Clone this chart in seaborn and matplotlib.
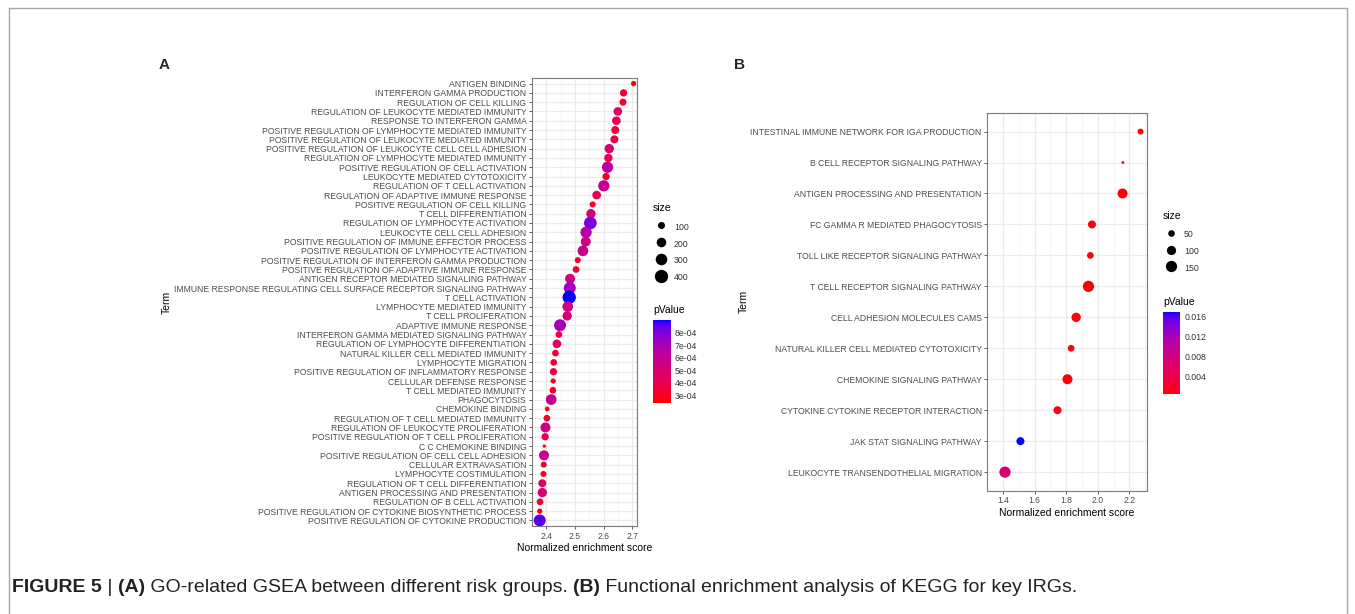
import numpy as np
import pandas as pd
import matplotlib
matplotlib.use("Agg")
import matplotlib.pyplot as plt
import seaborn as sns
from matplotlib.colors import ListedColormap, Normalize
from matplotlib.lines import Line2D
import matplotlib.colorbar as mcolorbar

# ---------------- data: panel A (GO) ----------------
terms_a = [
    "ANTIGEN BINDING",
    "INTERFERON GAMMA PRODUCTION",
    "REGULATION OF CELL KILLING",
    "REGULATION OF LEUKOCYTE MEDIATED IMMUNITY",
    "RESPONSE TO INTERFERON GAMMA",
    "POSITIVE REGULATION OF LYMPHOCYTE MEDIATED IMMUNITY",
    "POSITIVE REGULATION OF LEUKOCYTE MEDIATED IMMUNITY",
    "POSITIVE REGULATION OF LEUKOCYTE CELL CELL ADHESION",
    "REGULATION OF LYMPHOCYTE MEDIATED IMMUNITY",
    "POSITIVE REGULATION OF CELL ACTIVATION",
    "LEUKOCYTE MEDIATED CYTOTOXICITY",
    "REGULATION OF T CELL ACTIVATION",
    "REGULATION OF ADAPTIVE IMMUNE RESPONSE",
    "POSITIVE REGULATION OF CELL KILLING",
    "T CELL DIFFERENTIATION",
    "REGULATION OF LYMPHOCYTE ACTIVATION",
    "LEUKOCYTE CELL CELL ADHESION",
    "POSITIVE REGULATION OF IMMUNE EFFECTOR PROCESS",
    "POSITIVE REGULATION OF LYMPHOCYTE ACTIVATION",
    "POSITIVE REGULATION OF INTERFERON GAMMA PRODUCTION",
    "POSITIVE REGULATION OF ADAPTIVE IMMUNE RESPONSE",
    "ANTIGEN RECEPTOR MEDIATED SIGNALING PATHWAY",
    "IMMUNE RESPONSE REGULATING CELL SURFACE RECEPTOR SIGNALING PATHWAY",
    "T CELL ACTIVATION",
    "LYMPHOCYTE MEDIATED IMMUNITY",
    "T CELL PROLIFERATION",
    "ADAPTIVE IMMUNE RESPONSE",
    "INTERFERON GAMMA MEDIATED SIGNALING PATHWAY",
    "REGULATION OF LYMPHOCYTE DIFFERENTIATION",
    "NATURAL KILLER CELL MEDIATED IMMUNITY",
    "LYMPHOCYTE MIGRATION",
    "POSITIVE REGULATION OF INFLAMMATORY RESPONSE",
    "CELLULAR DEFENSE RESPONSE",
    "T CELL MEDIATED IMMUNITY",
    "PHAGOCYTOSIS",
    "CHEMOKINE BINDING",
    "REGULATION OF T CELL MEDIATED IMMUNITY",
    "REGULATION OF LEUKOCYTE PROLIFERATION",
    "POSITIVE REGULATION OF T CELL PROLIFERATION",
    "C C CHEMOKINE BINDING",
    "POSITIVE REGULATION OF CELL CELL ADHESION",
    "CELLULAR EXTRAVASATION",
    "LYMPHOCYTE COSTIMULATION",
    "REGULATION OF T CELL DIFFERENTIATION",
    "ANTIGEN PROCESSING AND PRESENTATION",
    "REGULATION OF B CELL ACTIVATION",
    "POSITIVE REGULATION OF CYTOKINE BIOSYNTHETIC PROCESS",
    "POSITIVE REGULATION OF CYTOKINE PRODUCTION",
]
nes_a = [2.705, 2.670, 2.668, 2.650, 2.645, 2.641, 2.638, 2.620, 2.617, 2.614,
         2.609, 2.601, 2.576, 2.562, 2.556, 2.554, 2.539, 2.538, 2.528, 2.510,
         2.504, 2.483, 2.482, 2.480, 2.475, 2.473, 2.448, 2.444, 2.437, 2.432,
         2.426, 2.425, 2.424, 2.423, 2.417, 2.403, 2.402, 2.397, 2.396, 2.393,
         2.392, 2.391, 2.390, 2.386, 2.386, 2.378, 2.377, 2.377]
size_a = [50, 110, 100, 160, 160, 135, 135, 190, 148, 285,
          110, 285, 160, 70, 190, 365, 285, 220, 254, 70,
          90, 220, 323, 400, 254, 190, 323, 90, 160, 90,
          90, 110, 50, 90, 254, 36, 90, 220, 110, 10,
          220, 70, 70, 135, 190, 90, 50, 323]
pval_a = [2.4e-4, 3.5e-4, 3.2e-4, 4.5e-4, 4.2e-4, 3.5e-4, 3.8e-4, 5.0e-4, 4.2e-4, 6.3e-4,
          3.0e-4, 6.0e-4, 4.0e-4, 2.8e-4, 5.0e-4, 8.0e-4, 6.5e-4, 5.5e-4, 5.8e-4, 3.0e-4,
          3.2e-4, 5.5e-4, 7.2e-4, 9.0e-4, 5.5e-4, 5.0e-4, 7.0e-4, 3.5e-4, 4.5e-4, 3.5e-4,
          3.2e-4, 3.8e-4, 2.8e-4, 3.2e-4, 5.8e-4, 2.5e-4, 3.0e-4, 5.5e-4, 4.0e-4, 2.5e-4,
          5.8e-4, 3.0e-4, 3.2e-4, 4.5e-4, 5.0e-4, 3.2e-4, 2.8e-4, 8.5e-4]
xticks_a = [2.4, 2.5, 2.6, 2.7]
size_breaks_a = [100, 200, 300, 400]
cbar_ticks_a = [3e-4, 4e-4, 5e-4, 6e-4, 7e-4, 8e-4]
cbar_labels_a = ["3e-04", "4e-04", "5e-04", "6e-04", "7e-04", "8e-04"]

# ---------------- data: panel B (KEGG) ----------------
terms_b = [
    "INTESTINAL IMMUNE NETWORK FOR IGA PRODUCTION",
    "B CELL RECEPTOR SIGNALING PATHWAY",
    "ANTIGEN PROCESSING AND PRESENTATION",
    "FC GAMMA R MEDIATED PHAGOCYTOSIS",
    "TOLL LIKE RECEPTOR SIGNALING PATHWAY",
    "T CELL RECEPTOR SIGNALING PATHWAY",
    "CELL ADHESION MOLECULES CAMS",
    "NATURAL KILLER CELL MEDIATED CYTOTOXICITY",
    "CHEMOKINE SIGNALING PATHWAY",
    "CYTOKINE CYTOKINE RECEPTOR INTERACTION",
    "JAK STAT SIGNALING PATHWAY",
    "LEUKOCYTE TRANSENDOTHELIAL MIGRATION",
]
nes_b = [2.271, 2.159, 2.157, 1.963, 1.953, 1.941, 1.863, 1.831, 1.808, 1.745, 1.510, 1.412]
size_b = [41, 7, 118, 75, 52, 178, 102, 52, 118, 75, 75, 180]
pval_b = [0.0006, 0.0004, 0.0005, 0.0008, 0.0007, 0.0004, 0.0009, 0.0010, 0.0006,
          0.0012, 0.0169, 0.0068]
xticks_b = [1.4, 1.6, 1.8, 2.0, 2.2]
size_breaks_b = [50, 100, 150]
cbar_ticks_b = [0.004, 0.008, 0.012, 0.016]
cbar_labels_b = ["0.004", "0.008", "0.012", "0.016"]

caption_parts = [("FIGURE 5", "bold"), (" | ", "normal"), ("(A)", "bold"),
                 (" GO-related GSEA between different risk groups. ", "normal"),
                 ("(B)", "bold"),
                 (" Functional enrichment analysis of KEGG for key IRGs.", "normal")]

# ---------------- red -> blue gradient interpolated in CIELAB (ggplot style) ----
_M = np.array([[0.4124564, 0.3575761, 0.1804375],
               [0.2126729, 0.7151522, 0.0721750],
               [0.0193339, 0.1191920, 0.9503041]])
_WP = np.array([0.95047, 1.0, 1.08883])


def to_lab(c):
    rgb = np.array(matplotlib.colors.to_rgb(c))
    lin = np.where(rgb <= 0.04045, rgb / 12.92, ((rgb + 0.055) / 1.055) ** 2.4)
    t = (_M @ lin) / _WP
    f = np.where(t > (6 / 29) ** 3, np.cbrt(t), t / (3 * (6 / 29) ** 2) + 4 / 29)
    return np.array([116 * f[1] - 16, 500 * (f[0] - f[1]), 200 * (f[1] - f[2])])


def from_lab(lab):
    L, a, b = lab
    fy_ = (L + 16) / 116
    f = np.array([fy_ + a / 500, fy_, fy_ - b / 200])
    t = np.where(f > 6 / 29, f ** 3, 3 * (6 / 29) ** 2 * (f - 4 / 29))
    lin = np.clip(np.linalg.solve(_M, t * _WP), 0, 1)
    rgb = np.where(lin <= 0.0031308, 12.92 * lin, 1.055 * lin ** (1 / 2.4) - 0.055)
    return np.clip(rgb, 0, 1)


lo, hi = to_lab("#FF0000"), to_lab("#0000FF")
cmap = ListedColormap([from_lab(lo + (hi - lo) * u) for u in np.linspace(0, 1, 256)])

# ---------------- figure ----------------
sns.set_theme(style="white")
plt.rcParams["font.family"] = ["Liberation Sans", "DejaVu Sans"]
W, H = 1355, 614
fig = plt.figure(figsize=(W / 100, H / 100), dpi=100)
fig.patch.set_facecolor("white")

TXT = "#4D4D4D"


def fx(px):
    return px / W


def fy(py):
    return 1 - py / H


def panel(rect, terms, nes, sizes, pvals, xticks, xlim, smap, sbreaks,
          size_title_xy, leg_xy, cb_rect, cb_title_xy, cb_ticks, cb_labels):
    ax = fig.add_axes(rect)
    df = pd.DataFrame({"Term": terms, "NES": nes, "size": sizes, "pValue": pvals})
    norm = Normalize(min(pvals), max(pvals))
    sns.scatterplot(data=df, x="NES", y="Term", hue="pValue", size="size",
                    palette=cmap, hue_norm=(norm.vmin, norm.vmax),
                    sizes=smap[0], size_norm=smap[1], linewidth=0,
                    legend=False, ax=ax, zorder=3)
    n = len(terms)
    ax.set_ylim(n - 1 + 0.6, -0.6)
    ax.set_xlim(*xlim)
    ax.set_xticks(xticks)
    step = xticks[1] - xticks[0]
    minor = np.arange(xticks[0] - step / 2, xlim[1], step)
    ax.set_xticks(minor, minor=True)
    ax.grid(which="major", color="#EBEBEB", lw=0.9)
    ax.grid(which="minor", axis="x", color="#F3F3F3", lw=0.5)
    ax.set_axisbelow(True)
    for s in ax.spines.values():
        s.set_color("#7A7A7A")
        s.set_linewidth(0.8)
    ax.tick_params(which="major", length=2.5, width=0.6, color="#444444",
                   labelcolor=TXT, labelsize=6.2, pad=1.5, left=True, bottom=True)
    ax.tick_params(which="minor", length=0)
    ax.set_xlabel("Normalized enrichment score", fontsize=7.5, color="black", labelpad=2)
    ax.set_ylabel("Term", fontsize=7.5, color="black", labelpad=1)

    # size legend
    s0, s1 = smap[0]
    v0, v1 = smap[1]
    handles = [Line2D([], [], ls="", marker="o", color="black", mew=0,
                      markersize=np.sqrt(s0 + (b - v0) / (v1 - v0) * (s1 - s0)))
               for b in sbreaks]
    fig.text(size_title_xy[0], size_title_xy[1], "size", fontsize=7.5,
             va="center", ha="left", color="black")
    leg = fig.legend(handles, [str(b) for b in sbreaks],
                     loc="upper left", bbox_to_anchor=leg_xy, frameon=False,
                     fontsize=6.3, borderpad=0, borderaxespad=0,
                     handlelength=1.9, handleheight=1.7, labelspacing=0.57,
                     handletextpad=0.5)
    for t in leg.get_texts():
        t.set_color("#333333")

    # colour bar
    cax = fig.add_axes(cb_rect)
    cb = mcolorbar.ColorbarBase(cax, cmap=cmap, norm=norm, orientation="vertical")
    cb.outline.set_visible(False)
    cb.set_ticks(cb_ticks)
    cb.set_ticklabels(cb_labels)
    cax.tick_params(left=True, right=True, direction="in", color="white",
                    length=3, width=0.6, labelsize=6.3, labelcolor="#333333", pad=3)
    fig.text(cb_title_xy[0], cb_title_xy[1], "pValue", fontsize=7.5,
             va="center", ha="left", color="black")
    return ax


# panel A
panel([fx(532), fy(526), fx(637) - fx(532), fy(78) - fy(526)],
      terms_a, nes_a, size_a, pval_a, xticks_a, (2.359, 2.717),
      ((3.5, 91.5), (0, 400)), size_breaks_a,
      (fx(653), fy(208)), (fx(653), fy(221)),
      [fx(653), fy(402.7), fx(670.7) - fx(653), fy(320) - fy(402.7)],
      (fx(653), fy(310)), cbar_ticks_a, cbar_labels_a)

# panel B
panel([fx(987.3), fy(490.7), fx(1146.7) - fx(987.3), fy(113) - fy(490.7)],
      terms_b, nes_b, size_b, pval_b, xticks_b, (1.372, 2.31),
      ((1.0, 65.5), (0, 150)), size_breaks_b,
      (fx(1163), fy(216)), (fx(1163), fy(228.5)),
      [fx(1163), fy(394), fx(1180) - fx(1163), fy(312) - fy(394)],
      (fx(1163), fy(302)), cbar_ticks_b, cbar_labels_b)

# panel letters
fig.text(fx(164), fy(65), "A", fontsize=11, fontweight="bold", ha="center", va="center")
fig.text(fx(739), fy(65), "B", fontsize=11, fontweight="bold", ha="center", va="center")

# outer frame (open at the bottom)
for xs, ys in [((9, 9), (H + 5, 8)), ((9, 1347), (8, 8)), ((1347, 1347), (8, H + 5))]:
    fig.add_artist(Line2D([fx(x) for x in xs], [fy(y) for y in ys],
                          color="#A6A6A6", lw=1.0))

# caption
renderer = fig.canvas.get_renderer()
x = fx(12)
for txt, w in caption_parts:
    t = fig.text(x, fy(587), txt, fontsize=14, fontweight=w, va="center", ha="left",
                 color="#222222")
    bb = t.get_window_extent(renderer)
    x = bb.x1 / fig.bbox.width

fig.savefig("out.png", dpi=100, facecolor="white")
